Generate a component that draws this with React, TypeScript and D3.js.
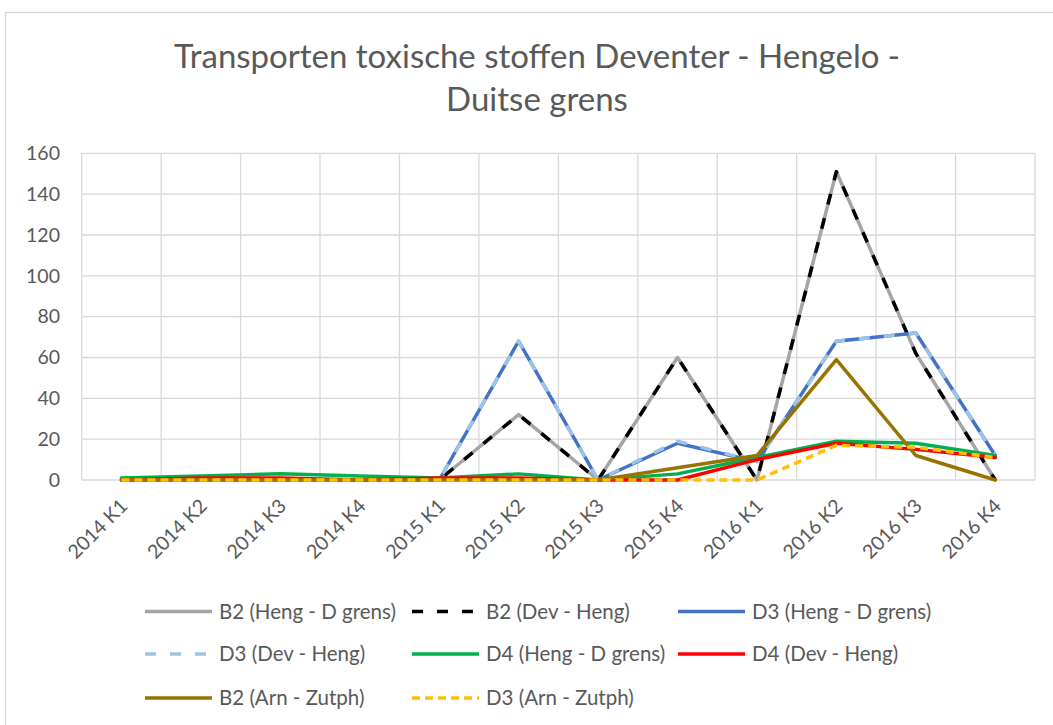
import React from 'react';
import * as d3 from 'd3';

const categories = ['2014 K1', '2014 K2', '2014 K3', '2014 K4', '2015 K1', '2015 K2', '2015 K3', '2015 K4', '2016 K1', '2016 K2', '2016 K3', '2016 K4'];
const yTicks = [0, 20, 40, 60, 80, 100, 120, 140, 160];

const b2HengDgrens = [0, 0, 0, 0, 0, 32, 0, 60, 0, 151, 62, 0];
const b2DevHeng = [0, 0, 0, 0, 0, 32, 0, 60, 0, 151, 62, 0];
const d3HengDgrens = [0, 0, 0, 0, 0, 68, 0, 18, 9, 68, 72, 12];
const d3DevHeng = [0, 0, 0, 0, 0, 68, 0, 19, 9, 68, 72, 12];
const d4HengDgrens = [1, 2, 3, 2, 1, 3, 0, 3, 11, 19, 18, 12];
const d4DevHeng = [0, 1, 1, 0, 1, 1, 0, 0, 10, 18, 15, 11];
const b2ArnZutph = [0, 0, 0, 0, 0, 0, 0, 6, 12, 59, 12, 0];
const d3ArnZutph = [0, 0, 0, 0, 0, 0, 0, 0, 0, 17, 16, 11];

const seriesNames = ['B2 (Heng - D grens)', 'B2 (Dev - Heng)', 'D3 (Heng - D grens)', 'D3 (Dev - Heng)', 'D4 (Heng - D grens)', 'D4 (Dev - Heng)', 'B2 (Arn - Zutph)', 'D3 (Arn - Zutph)'];
const seriesValues = [b2HengDgrens, b2DevHeng, d3HengDgrens, d3DevHeng, d4HengDgrens, d4DevHeng, b2ArnZutph, d3ArnZutph];
const seriesColors = ['#A5A5A5', '#000000', '#4472C4', '#9DC3E6', '#00B050', '#FF0000', '#997300', '#FFC000'];
const seriesDash = [null, '11,14', null, '11,14', null, null, null, '8,5'];

const W = 1053, H = 725;
const FONT = 'Lato, sans-serif';
const TXT = '#595959';
const GRID = '#D9D9D9';

export default function App() {
  const x = d3.scaleBand().domain(categories).range([81.7, 1035]).padding(0);
  const y = d3.scaleLinear().domain([0, 160]).range([480, 153.3]);
  const cx = (c: string) => (x(c) as number) + x.bandwidth() / 2;

  const line = d3.line<number>()
    .x((_, i) => cx(categories[i]))
    .y(d => y(d));

  // legend grid: 3 columns, rows of 3
  const legCols = [145, 412, 678];
  const legRows = [611.5, 654, 698];

  return (
    <svg width={W} height={H} style={{ position: 'absolute', left: 0, top: 0, background: '#fff' }}>
      <rect x={5.5} y={12.5} width={1100} height={800} fill="#fff" stroke={GRID} strokeWidth={1.3} />

      <text x={537} y={68} textAnchor="middle" fontFamily={FONT} fontSize={33} fill={TXT}>
        Transporten toxische stoffen Deventer - Hengelo -
      </text>
      <text x={537} y={111} textAnchor="middle" fontFamily={FONT} fontSize={33} fill={TXT}>
        Duitse grens
      </text>

      {/* gridlines */}
      {yTicks.map(t => (
        <line key={'h' + t} x1={81.7} x2={1035} y1={y(t)} y2={y(t)} stroke={GRID} strokeWidth={1.3} />
      ))}
      {categories.map(c => (
        <line key={'v' + c} x1={x(c) as number} x2={x(c) as number} y1={153.3} y2={480} stroke={GRID} strokeWidth={1.3} />
      ))}
      <line x1={1035} x2={1035} y1={153.3} y2={480} stroke={GRID} strokeWidth={1.3} />

      {/* y axis labels */}
      {yTicks.map(t => (
        <text key={'yl' + t} x={60} y={y(t)} dy="0.35em" textAnchor="end" fontFamily={FONT} fontSize={19.5} fill={TXT}>
          {t}
        </text>
      ))}

      {/* x axis labels */}
      {categories.map(c => (
        <text key={'xl' + c} transform={`translate(${cx(c) + 2},${502}) rotate(-45)`} textAnchor="end"
          dominantBaseline="central" fontFamily={FONT} fontSize={19.5} fill={TXT}>
          {c}
        </text>
      ))}

      {/* series */}
      {seriesValues.map((vals, i) => (
        <path key={'s' + i} d={line(vals) as string} fill="none" stroke={seriesColors[i]} strokeWidth={3.5}
          strokeDasharray={seriesDash[i] ?? undefined} strokeLinejoin="round"
          strokeLinecap={seriesDash[i] ? 'butt' : 'round'} />
      ))}

      {/* legend */}
      {seriesNames.map((name, i) => {
        const lx = legCols[i % 3];
        const ly = legRows[Math.floor(i / 3)];
        return (
          <g key={'lg' + i}>
            <line x1={lx} x2={lx + 67} y1={ly} y2={ly} stroke={seriesColors[i]} strokeWidth={3.5}
              strokeDasharray={seriesDash[i] ?? undefined} />
            <text x={lx + 74} y={ly} dy="0.35em" fontFamily={FONT} fontSize={20.5} fill={TXT}>{name}</text>
          </g>
        );
      })}
    </svg>
  );
}
